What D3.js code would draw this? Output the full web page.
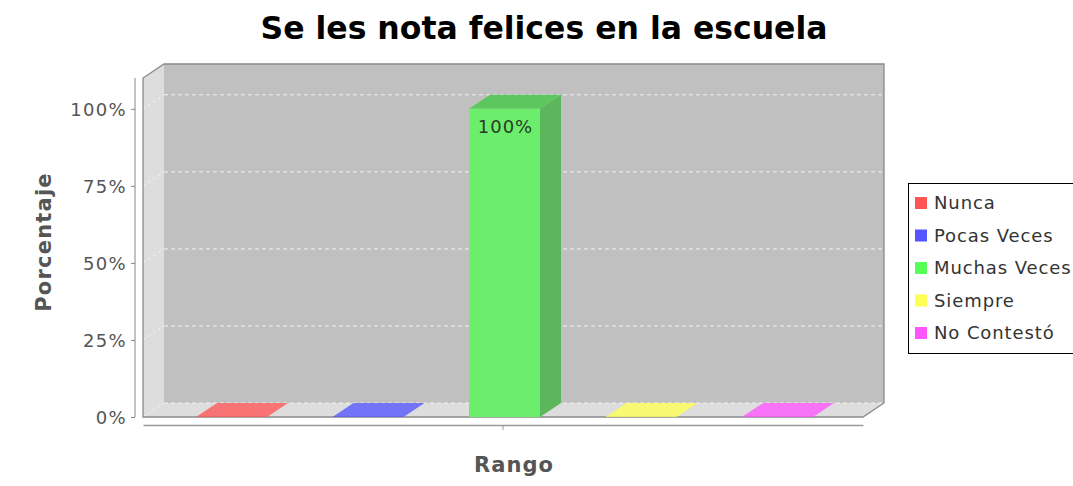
<!DOCTYPE html>
<html>
<head>
<meta charset="utf-8" />
<title>Se les nota felices en la escuela</title>
<script src="https://d3js.org/d3.v7.min.js"></script>
<style>
  body { margin: 0; background: #fff; }
  text { font-family: "DejaVu Sans", sans-serif; }
</style>
</head>
<body>
<div id="chart"></div>
<script>
// data
var series = ["Nunca", "Pocas Veces", "Muchas Veces", "Siempre", "No Contestó"];
var values = [0, 0, 1, 0, 0];
var colors = ["#ff5555", "#5555ff", "#55ff55", "#ffff55", "#ff55ff"];
var yTicks = [0, 0.25, 0.5, 0.75, 1];
var category = "Rango";

var width = 1073, height = 486;
var dx = 21, dy = -14; // 3d depth offset

var svg = d3.select("#chart").append("svg").attr("width", width).attr("height", height);

// scales
var y = d3.scaleLinear().domain([0, 1.1]).range([417, 78]);
var xCat = d3.scaleBand().domain([category]).range([143, 863]);
var x = d3.scaleBand().domain(series).range([196, 813]).paddingInner(0.48).paddingOuter(0);
var color = d3.scaleOrdinal().domain(series).range(colors);

var x0 = 143, x1 = 863, y0 = y(0), yTop = y.range()[1];

function poly(pts) { return pts.map(function(p){ return p.join(","); }).join(" "); }

// title
svg.append("text").attr("x", 544).attr("y", 39).attr("text-anchor", "middle")
  .style("font-size", "31.5px").style("font-weight", "bold").attr("fill", "#000")
  .text("Se les nota felices en la escuela");

// walls
svg.append("rect").attr("x", x0 + dx).attr("y", yTop + dy).attr("width", x1 - x0).attr("height", y0 - yTop)
  .attr("fill", "#c0c0c0");
svg.append("polygon").attr("points", poly([[x0, yTop], [x0 + dx, yTop + dy], [x0 + dx, y0 + dy], [x0, y0]]))
  .attr("fill", "#dddddd");
svg.append("polygon").attr("points", poly([[x0, y0], [x0 + dx, y0 + dy], [x1 + dx, y0 + dy], [x1, y0]]))
  .attr("fill", "#dddddd");

// gridlines
svg.selectAll(".grid").data(yTicks).enter().append("line")
  .attr("x1", x0 + dx).attr("x2", x1 + dx)
  .attr("y1", function(d){ return y(d) + dy; }).attr("y2", function(d){ return y(d) + dy; })
  .attr("stroke", "#f2f2f2").attr("stroke-dasharray", "4,3");
svg.selectAll(".gridw").data(yTicks).enter().append("line")
  .attr("x1", x0).attr("x2", x0 + dx)
  .attr("y1", function(d){ return y(d); }).attr("y2", function(d){ return y(d) + dy; })
  .attr("stroke", "#f4f4f4").attr("stroke-dasharray", "3,3");

// outline
svg.append("polygon")
  .attr("points", poly([[x0, y0], [x0, yTop], [x0 + dx, yTop + dy], [x1 + dx, yTop + dy], [x1 + dx, y0 + dy], [x1, y0]]))
  .attr("fill", "none").attr("stroke", "#8a8a8a").attr("stroke-width", 1.3);

// bars
var g = svg.selectAll(".bar").data(series).enter().append("g").attr("class", "bar");
g.each(function(s, i) {
  var sel = d3.select(this);
  var bx = x(s), bw = x.bandwidth(), top = y(values[i]);
  var c = d3.color(color(s));
  if (values[i] > 0) {
    sel.append("polygon").attr("points", poly([[bx + bw, top], [bx + bw + dx, top + dy], [bx + bw + dx, y0 + dy], [bx + bw, y0]]))
      .attr("fill", "rgb(92,182,92)");
    sel.append("polygon").attr("points", poly([[bx, top], [bx + dx, top + dy], [bx + bw + dx, top + dy], [bx + bw, top]]))
      .attr("fill", "rgb(94,198,94)");
    sel.append("rect").attr("x", bx).attr("y", top).attr("width", bw).attr("height", y0 - top)
      .attr("fill", "rgb(108,238,108)");
    sel.append("text").attr("x", bx + bw / 2 + 1).attr("y", top + 24).attr("text-anchor", "middle")
      .style("font-size", "18px").style("letter-spacing", "1px").attr("fill", "#2a3a2a")
      .text(d3.format(".0%")(values[i]));
  } else {
    sel.append("polygon").attr("points", poly([[bx, y0], [bx + dx, y0 + dy], [bx + bw + dx, y0 + dy], [bx + bw, y0]]))
      .attr("fill", c.formatHex()).attr("fill-opacity", 0.78);
  }
});

// y axis
var yAxis = svg.append("g").attr("transform", "translate(135,0)")
  .call(d3.axisLeft(y).tickValues(yTicks).tickFormat(d3.format(".0%")).tickSize(4).tickSizeOuter(0));
yAxis.select(".domain").attr("stroke", "#888").attr("d", "M0," + yTop + "V" + y0);
yAxis.selectAll(".tick line").attr("stroke", "#888");
yAxis.selectAll(".tick text").style("font-size", "18px").style("letter-spacing", "1.3px")
  .attr("fill", "#555").attr("x", -8).attr("dy", "0.36em");

svg.append("text").attr("transform", "translate(51,242) rotate(-90)").attr("text-anchor", "middle")
  .style("font-size", "21px").style("font-weight", "bold").style("letter-spacing", "1.2px")
  .attr("fill", "#555").text("Porcentaje");

// x axis
var xAxis = svg.append("g").attr("transform", "translate(0,425)")
  .call(d3.axisBottom(xCat).tickSize(5).tickSizeOuter(0).tickFormat(""));
xAxis.select(".domain").attr("stroke", "#999").attr("stroke-width", 1.6);
xAxis.selectAll(".tick line").attr("stroke", "#999");

svg.append("text").attr("x", 514).attr("y", 472).attr("text-anchor", "middle")
  .style("font-size", "21px").style("font-weight", "bold").style("letter-spacing", "1px")
  .attr("fill", "#555").text(category);

// legend
var leg = svg.append("g").attr("transform", "translate(908,183)");
leg.append("rect").attr("x", 0.5).attr("y", 0.5).attr("width", 180).attr("height", 170)
  .attr("fill", "#fff").attr("stroke", "#000");
var li = leg.selectAll(".li").data(series).enter().append("g")
  .attr("transform", function(d, i){ return "translate(0," + (20 + i * 32.5) + ")"; });
li.append("rect").attr("x", 7).attr("y", -6).attr("width", 12).attr("height", 12)
  .attr("fill", function(d){ return color(d); });
li.append("text").attr("x", 26).attr("y", 0).attr("dy", "0.36em").style("font-size", "18px")
  .style("letter-spacing", "0.9px").attr("fill", "#333").text(function(d){ return d; });
</script>
</body>
</html>
